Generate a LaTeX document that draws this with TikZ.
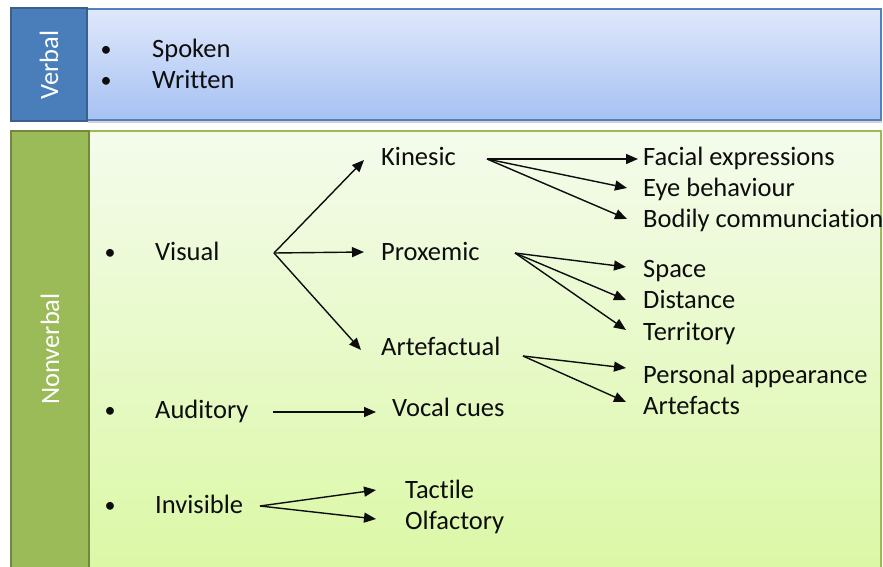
\documentclass[tikz,border=0pt]{standalone}
\usepackage{fontspec}
\setmainfont{Carlito}[Ligatures={NoCommon}]
\usetikzlibrary{arrows.meta,shadows}

\definecolor{vtabfill}{HTML}{4A7EBB}
\definecolor{vtabedge}{HTML}{3A5F8B}
\definecolor{vboxtop}{HTML}{DFE8FB}
\definecolor{vboxbot}{HTML}{A6C1F3}
\definecolor{vboxedge}{HTML}{4F81BD}
\definecolor{ntabfill}{HTML}{9BBB59}
\definecolor{ntabedge}{HTML}{71893F}
\definecolor{nboxtop}{HTML}{F4FBEC}
\definecolor{nboxbot}{HTML}{DBF8A5}
\definecolor{nboxedge}{HTML}{9BBB59}
\definecolor{ink}{HTML}{0D0D0D}

\begin{document}
\begin{tikzpicture}[x=1pt,y=-1pt,
  font=\fontsize{26.5}{31}\selectfont,
  item/.style={anchor=base west, inner sep=0pt, text height=20pt, text depth=4pt, text=ink},
  dot/.style={anchor=base, inner sep=0pt, text=ink, font=\fontsize{22}{22}\selectfont},
  tablabel/.style={rotate=90, inner sep=0pt, text=white},
  arr/.style={draw=ink, line width=1.4pt, -{Triangle[length=12pt,width=10pt]}},
  panel/.style={line width=1.6pt},
]
\useasboundingbox (0,0) rectangle (883,567);

% ---- verbal panel ----
\draw[panel, draw=vboxedge, top color=vboxtop, bottom color=vboxbot,
      drop shadow={shadow xshift=1pt, shadow yshift=-3pt, opacity=0.35}]
      (87,9) rectangle (881,120);
\draw[panel, draw=vtabedge, fill=vtabfill] (11,8) rectangle (87,121);
\node[tablabel] (verbal) at (49,65) {Verbal};

\node[dot] (b-spoken) at (106,57) {•};
\node[item] (spoken) at (152,58) {Spoken};
\node[dot] (b-written) at (106,88) {•};
\node[item] (written) at (152,89) {Written};

% ---- nonverbal panel ----
\draw[panel, draw=nboxedge, top color=nboxtop, bottom color=nboxbot]
      (89,131) rectangle (881,572);
\draw[panel, draw=ntabedge, fill=ntabfill] (11,131) rectangle (89,572);
\node[tablabel] (nonverbal) at (50,349) {Nonverbal};

% channels
\node[dot] (b-visual) at (110,259) {•};
\node[item] (visual) at (155,260) {Visual};
\node[dot] (b-auditory) at (110,417) {•};
\node[item] (auditory) at (155,418) {Auditory};
\node[dot] (b-invisible) at (110,512) {•};
\node[item] (invisible) at (155,513) {Invisible};

% second level
\node[item] (kinesic) at (381,165) {Kinesic};
\node[item] (proxemic) at (381,260) {Proxemic};
\node[item] (artefactual) at (381,355) {Artefactual};
\node[item] (vocal) at (392,416) {Vocal cues};
\node[item] (tactile) at (405,498) {Tactile};
\node[item] (olfactory) at (405,529) {Olfactory};

% third level
\node[item] (facial) at (643,165) {Facial expressions};
\node[item] (eye) at (643,196) {Eye behaviour};
\node[item] (bodily) at (643,227) {Bodily communciation};
\node[item] (space) at (643,277) {Space};
\node[item] (distance) at (643,308) {Distance};
\node[item] (territory) at (643,340) {Territory};
\node[item] (personal) at (643,383) {Personal appearance};
\node[item] (artefacts) at (643,414) {Artefacts};

% fork points
\coordinate (vis-fork) at (274,253);
\coordinate (kin-fork) at (487,159);
\coordinate (prox-fork) at (515,253);
\coordinate (art-fork) at (523,356);
\coordinate (aud-out) at (273,412);
\coordinate (inv-fork) at (260,506);

% connectors
\draw[arr] (vis-fork) -- ([xshift=-17pt,yshift=-3pt]kinesic.west);
\draw[arr] (vis-fork) -- ([xshift=-17pt]proxemic.west);
\draw[arr] (vis-fork) -- ([xshift=-20pt,yshift=-3pt]artefactual.west);

\draw[arr] (kin-fork) -- ([xshift=-5pt,yshift=-2pt]facial.west);
\draw[arr] (kin-fork) -- ([xshift=-16pt]eye.west);
\draw[arr] (kin-fork) -- ([xshift=-16pt]bodily.west);

\draw[arr] (prox-fork) -- ([xshift=-17pt,yshift=2pt]space.west);
\draw[arr] (prox-fork) -- ([xshift=-17pt]distance.west);
\draw[arr] (prox-fork) -- ([xshift=-17pt,yshift=2pt]territory.west);

\draw[arr] (art-fork) -- ([xshift=-17pt,yshift=7pt]personal.west);
\draw[arr] (art-fork) -- ([xshift=-17pt,yshift=4pt]artefacts.west);

\draw[arr] (aud-out) -- ([xshift=-16pt,yshift=-4pt]vocal.west);

\draw[arr] (inv-fork) -- ([xshift=-29pt]tactile.west);
\draw[arr] (inv-fork) -- ([xshift=-29pt,yshift=2pt]olfactory.west);
\end{tikzpicture}
\end{document}
